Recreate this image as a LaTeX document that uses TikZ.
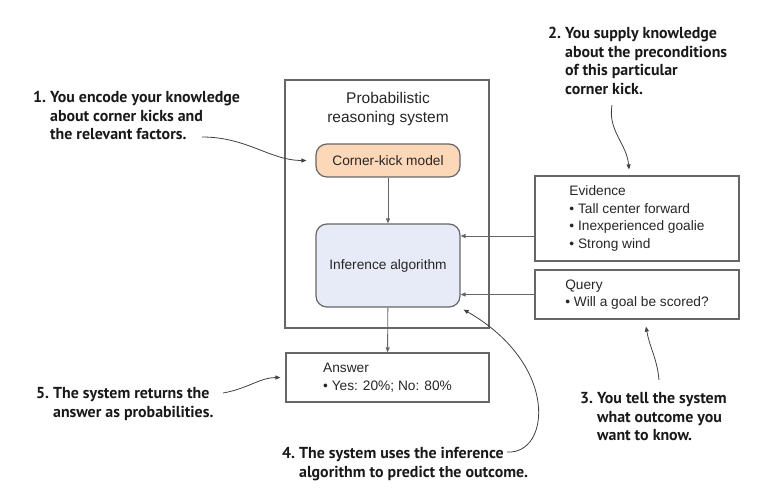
\documentclass[tikz,border=0pt]{standalone}
\usepackage{fontspec}
\setmainfont{Liberation Sans}
\newfontfamily\notefont{PT Sans}
\usetikzlibrary{arrows.meta}

\definecolor{kickfill}{HTML}{FCD7B8}
\definecolor{inffill}{HTML}{E7EBF7}
\definecolor{edgegray}{HTML}{666666}

\begin{document}
\begin{tikzpicture}[x=1pt, y=-1pt,
        box/.style={draw=edgegray, line width=1.2pt, inner sep=0pt, align=left,
            font=\fontsize{13.7}{17.5}\selectfont, text=black!85},
        roundbox/.style={box, rounded corners=11pt, minimum width=144pt, align=center},
        note/.style={font=\notefont\bfseries\fontsize{15.9}{18.7}\selectfont,
            align=left, anchor=north west, inner sep=0pt, text=black!90},
        link/.style={-{Triangle[length=5pt,width=4pt]}, edgegray, line width=0.9pt},
        hint/.style={-{Triangle[length=5pt,width=4pt]}, black!75, line width=0.8pt}
    ]
    \useasboundingbox (0,0) rectangle (760,501);

    % 系统外框
    \node[box, minimum width=204pt, minimum height=248pt] (system) at (387,204) {};
    \node[align=center, inner sep=0pt, font=\fontsize{15.5}{19}\selectfont, text=black!85]
        (systitle) at (388,108.5) {Probabilistic\\reasoning system};

    % 模型与推理算法
    \node[roundbox, fill=kickfill, minimum height=33pt] (kick) at (388,160.5) {Corner-kick model};
    \node[roundbox, fill=inffill, minimum height=83pt] (infer) at (388,265.5) {Inference algorithm};

    % 右侧输入框与下方输出框
    \node[box, minimum width=204pt, minimum height=85pt] (evidence) at (637,218.5)
        {Evidence\\• Tall center forward\\• Inexperienced goalie\\• Strong wind};
    \node[box, minimum width=204pt, minimum height=49pt] (query) at (637,294.5)
        {Query\\• Will a goal be scored?};
    \node[box, minimum width=203pt, minimum height=49pt] (answer) at (387.5,377.5)
        {Answer\\• Yes: 20\%; No: 80\%};

    % 框之间的箭头
    \draw[link] (kick) -- (infer);
    \draw[link] ([yshift=-17.5pt]evidence.west) -- ([yshift=-17.5pt]evidence.west -| infer.east);
    \draw[link] (query.west) -- (query.west -| infer.east);
    \draw[link] (infer) -- (answer);

    % 说明文字
    \node[note] (note1) at (33,91) {1.\ You encode your knowledge\\
        \phantom{1.\ }about corner kicks and\\\phantom{1.\ }the relevant factors.};
    \node[note] (note2) at (548,27) {2.\ You supply knowledge\\
        \phantom{2.\ }about the preconditions\\\phantom{2.\ }of this particular\\
        \phantom{2.\ }corner kick.};
    \node[note] (note3) at (580,392) {3.\ You tell the system\\
        \phantom{3.\ }what outcome you\\\phantom{3.\ }want to know.};
    \node[note] (note4) at (282,447) {4.\ The system uses the inference\\
        \phantom{4.\ }algorithm to predict the outcome.};
    \node[note] (note5) at (36,387) {5.\ The system returns the\\
        \phantom{5.\ }answer as probabilities.};

    % 说明箭头
    \coordinate (tail1) at (202,137);
    \coordinate (tail2) at (612,105);
    \coordinate (tail3) at (659,380);
    \coordinate (tail4) at (507,452);
    \coordinate (tail5) at (223,393);
    \draw[hint, shorten >=9pt] (tail1) to[out=0, in=180] (kick.west);
    \draw[hint] (tail2) to[out=-100, in=95] ([xshift=-8pt, yshift=6pt]evidence.north);
    \draw[hint] (tail3) to[out=95, in=-80] ([xshift=9pt, yshift=-7pt]query.south);
    \draw[hint] (tail4) .. controls (550,455) and (560,365) .. ([xshift=3pt, yshift=-2pt]infer.south east);
    \draw[hint, shorten >=5pt] (tail5) to[out=10, in=180] (answer.west);

\end{tikzpicture}
\end{document}
